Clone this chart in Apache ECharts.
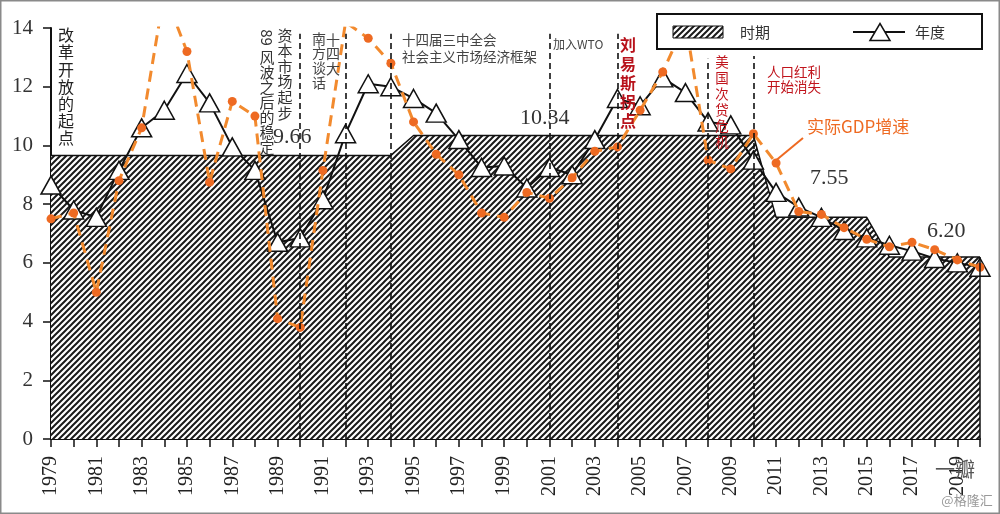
<!DOCTYPE html>
<html><head><meta charset="utf-8">
<script src="https://cdn.jsdelivr.net/npm/echarts@6/dist/echarts.min.js"></script>
<style>html,body{margin:0;padding:0;background:#fff}#c{width:1000px;height:514px}</style>
</head><body><div id="c"></div>
<script>
const years = ['1979','1980','1981','1982','1983','1984','1985','1986','1987','1988','1989','1990','1991','1992','1993','1994','1995','1996','1997','1998','1999','2000','2001','2002','2003','2004','2005','2006','2007','2008','2009','2010','2011','2012','2013','2014','2015','2016','2017','2018','2019','2020'];
const periodValues = [9.66,9.66,9.66,9.66,9.66,9.66,9.66,9.66,9.66,9.66,9.66,9.66,9.66,9.66,9.66,9.66,10.34,10.34,10.34,10.34,10.34,10.34,10.34,10.34,10.34,10.34,10.34,10.34,10.34,10.34,10.34,10.34,7.55,7.55,7.55,7.55,7.55,6.20,6.20,6.20,6.20,6.20];
const annualValues = [8.65,7.8,7.55,9.15,10.6,11.2,12.45,11.45,9.95,9.15,6.7,6.85,8.15,10.4,12.1,12.0,11.6,11.1,10.2,9.25,9.3,8.55,9.25,9.0,10.2,11.6,11.35,12.3,11.8,10.8,10.7,9.5,8.4,7.9,7.55,7.1,6.85,6.6,6.4,6.15,6.0,5.85];
const gdpValues = [7.5,7.7,5.0,8.8,10.6,15.2,13.2,8.75,11.5,11.0,4.1,3.8,9.15,14.2,13.65,12.8,10.8,9.7,9.0,7.7,7.55,8.4,8.2,8.9,9.8,9.95,11.2,12.5,14.2,9.5,9.2,10.4,9.4,7.75,7.65,7.2,6.8,6.55,6.7,6.45,6.1,5.85];
const periodLabels = ['9.66','10.34','7.55','6.20'];
const eventYears = ['1990','1992','1994','2001','2004','2008','2010'];
const eventTops = [13.8,13.8,13.8,13.8,13.8,12.95,13.05];

function hatch(){
  const s=6, c=document.createElement('canvas'); c.width=s; c.height=s;
  const g=c.getContext('2d'); g.fillStyle='#fff'; g.fillRect(0,0,s,s);
  g.strokeStyle='#1a1a1a'; g.lineWidth=2;
  g.beginPath();
  g.moveTo(-2,2); g.lineTo(2,-2);
  g.moveTo(-1,s+1); g.lineTo(s+1,-1);
  g.moveTo(s-2,s+2); g.lineTo(s+2,s-2);
  g.stroke(); return c;
}
const hatchCanvas = hatch();
const serif = 'Liberation Serif';
const cjk = 'Noto Sans CJK SC';

const chart = echarts.init(document.getElementById('c'), null, {renderer:'canvas'});
const evLines = eventYears.map((y,i)=>[{coord:[y,0]},{coord:[y,eventTops[i]]}]);
evLines.push([{coord:['2020',0],lineStyle:{type:'solid',width:1.5}},{coord:['2020',periodValues[periodValues.length-1]]}]);

function vt(text,x,top,fs,lh,fill,weight){
  return {type:'text',z:100,style:{text:text.split('').join('\n'),x:x,y:top,fontSize:fs,lineHeight:lh,fontFamily:cjk,fill:fill,fontWeight:weight||'normal',textAlign:'center',textVerticalAlign:'top'}};
}
function ht(text,x,y,fs,fill,family,align,weight){
  return {type:'text',z:100,style:{text:text,x:x,y:y,fontSize:fs,fontFamily:family||cjk,fill:fill,textAlign:align||'left',textVerticalAlign:'middle',fontWeight:weight||'normal'}};
}

const option = {
  animation:false,
  backgroundColor:'#fff',
  grid:{left:51,right:20,top:28,bottom:75},
  xAxis:{type:'category',data:years,boundaryGap:false,
    axisLine:{lineStyle:{color:'#111',width:2}},
    axisTick:{interval:0,length:8,lineStyle:{color:'#111',width:1.5}},
    axisLabel:{interval:1,rotate:90,margin:17,fontFamily:serif,fontSize:20,color:'#222'},
    splitLine:{show:false}},
  yAxis:{type:'value',min:0,max:14,interval:2,
    axisLine:{show:true,lineStyle:{color:'#111',width:2}},
    axisTick:{show:true,length:8,lineStyle:{color:'#111',width:1.5}},
    axisLabel:{fontFamily:serif,fontSize:21,color:'#333',margin:18},
    splitLine:{show:false}},
  series:[
    {name:'时期',type:'line',data:periodValues,symbol:'none',silent:true,z:1,
     lineStyle:{color:'#111',width:1.5},
     areaStyle:{color:{image:hatchCanvas,repeat:'repeat'},opacity:1},
     markLine:{silent:true,symbol:'none',label:{show:false},
       lineStyle:{color:'#111',width:1.6,type:[6,4]},data:evLines}},
    {name:'年度',type:'line',data:annualValues,symbol:'triangle',symbolSize:[20,18],showAllSymbol:true,z:3,
     lineStyle:{color:'#111',width:2},
     itemStyle:{color:'#fff',borderColor:'#111',borderWidth:1.5}},
    {name:'实际GDP增速',type:'line',data:gdpValues,symbol:'circle',symbolSize:9,showAllSymbol:true,z:4,
     lineStyle:{color:'#F28A2E',width:3,type:[11,7]},
     itemStyle:{color:'#EE6A22'}}
  ],
  graphic:[
    {type:'rect',z:200,shape:{x:0.75,y:0.75,width:998.5,height:512.5},style:{fill:'none',stroke:'#8a8a8a',lineWidth:1.5}},
    vt('改革开放的起点',66,26.5,16,17.2,'#222'),
    vt('资本市场起步',285,27,15,15.6,'#333'),
    {type:'text',z:100,x:267,y:37.5,rotation:-Math.PI/2,style:{text:'89',x:0,y:0,fontSize:15,fontFamily:cjk,fill:'#333',textAlign:'center',textVerticalAlign:'middle'}},
    vt('风波之后的稳定',267,49.5,15,15,'#333'),
    vt('南方谈话',319,31,14,14.7,'#444'),
    vt('十四大',333,32,14,14.5,'#444'),
    ht('十四届三中全会',402,40,13.5,'#444'),
    ht('社会主义市场经济框架',402,57,13.5,'#444'),
    ht('加入WTO',553,44,12,'#444'),
    vt('刘易斯拐点',628,35.5,16,19,'#B8121B','bold'),
    vt('美国次贷危机',722,54,13.5,16,'#C0141C'),
    {type:'text',z:100,style:{text:'人口红利\n开始消失',x:767,y:64.5,fontSize:13.5,lineHeight:15,fontFamily:cjk,fill:'#C0141C',textAlign:'left',textVerticalAlign:'top'}},
    ht('实际GDP增速',807,127,17,'#EE6A22'),
    {type:'line',z:100,shape:{x1:803,y1:138,x2:774,y2:162},style:{stroke:'#EE6A22',lineWidth:2}},
    ht(periodLabels[0],273,137,22,'#333',serif),
    ht(periodLabels[1],520,118,22,'#333',serif),
    ht(periodLabels[2],810,178,22,'#333',serif),
    ht(periodLabels[3],927,231,22,'#333',serif),
    {type:'rect',z:150,shape:{x:657,y:14,width:325,height:35},style:{fill:'#fff',stroke:'#111',lineWidth:2}},
    {type:'rect',z:151,shape:{x:673,y:26,width:50,height:12},style:{fill:{image:hatchCanvas,repeat:'repeat'},stroke:'#111',lineWidth:1}},
    Object.assign(ht('时期',740,32,15,'#333'),{z:151}),
    {type:'line',z:151,shape:{x1:853,y1:32,x2:905,y2:32},style:{stroke:'#111',lineWidth:2}},
    {type:'polygon',z:152,shape:{points:[[870,40.5],[880,23.5],[890,40.5]]},style:{fill:'#fff',stroke:'#111',lineWidth:1.5}},
    Object.assign(ht('年度',915,32,15,'#333'),{z:151}),
    ht('一瓣',955,469,20,'#555',cjk,'center'),
    ht('@格隆汇',967,500,13,'#999',cjk,'center')
  ]
};
chart.setOption(option);
</script></body></html>
